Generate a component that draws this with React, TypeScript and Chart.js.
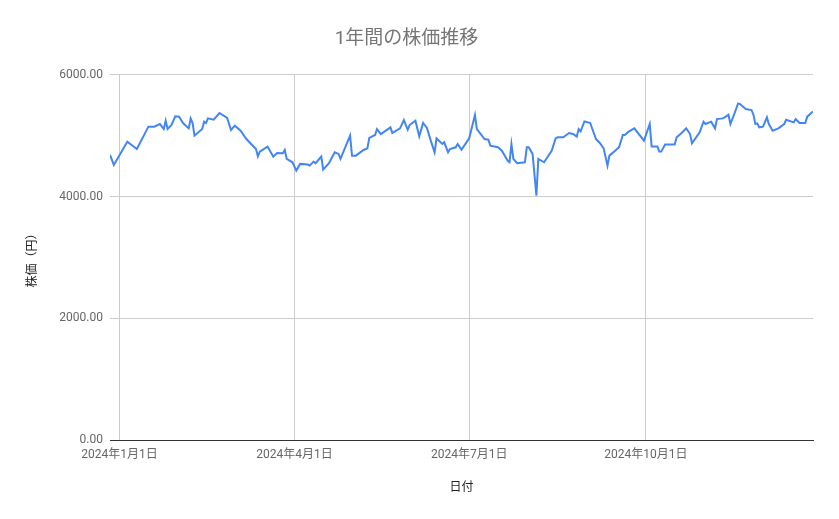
import React, { useEffect, useRef } from 'react';
import { Chart, registerables } from 'chart.js';

Chart.register(...registerables);

// days counted from 2024-01-01 (negative = late Dec 2023)
const tradingDays = [
  -5, -3, 4, 9, 15, 18, 21, 23, 24, 25, 27, 29, 31, 33, 36, 37, 38, 39, 43, 44,
  45, 46, 49, 52, 56, 58, 60, 63, 66, 71, 72, 73, 77, 80, 82, 85, 86, 87, 90, 92,
  94, 98, 99, 101, 102, 105, 106, 109, 112, 114, 115, 120, 121, 123, 127, 129, 130, 133, 134, 136,
  141, 142, 144, 146, 148, 150, 151, 154, 156, 158, 160, 162, 164, 165, 168, 169, 171, 172, 175, 176,
  178, 182, 185, 186, 190, 192, 193, 197, 199, 202, 203, 204, 205, 207, 211, 212, 213, 215, 217, 218,
  221, 225, 227, 228, 231, 234, 236, 238, 239, 240, 242, 245, 248, 250, 252, 254, 255, 258, 260, 262,
  263, 265, 268, 273, 276, 277, 280, 281, 282, 284, 289, 290, 292, 293, 295, 297, 298, 302, 304, 305,
  308, 310, 311, 314, 315, 317, 318, 320, 322, 323, 326, 329, 330, 331, 332, 333, 335, 337, 338, 340,
  343, 346, 347, 351, 352, 354, 357, 358, 361,
];

const closePrices = [
  4683, 4519, 4902, 4781, 5148, 5148, 5191, 5109, 5246, 5109, 5175, 5317, 5311, 5208, 5120, 5284, 5208, 5000, 5109, 5230,
  5208, 5284, 5262, 5372, 5290, 5093, 5164, 5082, 4945, 4781, 4661, 4738, 4820, 4656, 4716, 4710, 4765, 4618, 4563, 4426,
  4536, 4525, 4508, 4574, 4547, 4656, 4443, 4547, 4727, 4700, 4618, 5000, 4672, 4672, 4765, 4792, 4962, 5011, 5109, 5027,
  5137, 5044, 5082, 5120, 5257, 5098, 5175, 5246, 4989, 5208, 5126, 4918, 4727, 4956, 4863, 4891, 4727, 4781, 4809, 4863,
  4770, 4956, 5339, 5109, 4945, 4934, 4836, 4809, 4754, 4590, 4563, 4863, 4618, 4547, 4563, 4809, 4809, 4700, 4016, 4618,
  4563, 4754, 4956, 4973, 4973, 5044, 5027, 4984, 5109, 5071, 5235, 5208, 4945, 4880, 4792, 4508, 4672, 4754, 4809, 5011,
  5011, 5066, 5120, 4918, 5191, 4820, 4820, 4738, 4738, 4853, 4853, 4973, 5027, 5055, 5120, 5027, 4874, 5055, 5230, 5191,
  5230, 5120, 5273, 5284, 5301, 5344, 5191, 5355, 5530, 5519, 5437, 5421, 5344, 5191, 5202, 5137, 5148, 5301, 5191, 5082,
  5120, 5191, 5262, 5219, 5273, 5208, 5208, 5312, 5399,
];

const xTickDays = [0, 91, 182, 274];
const xTickLabels = ['2024年1月1日', '2024年4月1日', '2024年7月1日', '2024年10月1日'];

const FONT = 'Roboto, "Noto Sans CJK JP", sans-serif';

const App: React.FC = () => {
  const chartRef = useRef<HTMLCanvasElement>(null);
  const chartInstanceRef = useRef<Chart | null>(null);

  useEffect(() => {
    document.body.style.margin = '0';
    if (!chartRef.current) return;
    const ctx = chartRef.current.getContext('2d');
    if (!ctx) return;

    if (chartInstanceRef.current) {
      chartInstanceRef.current.destroy();
    }

    chartInstanceRef.current = new Chart(ctx, {
      type: 'line',
      data: {
        datasets: [
          {
            label: '株価',
            data: tradingDays.map((d, i) => ({ x: d, y: closePrices[i] })),
            borderColor: '#4285F4',
            borderWidth: 2,
            pointRadius: 0,
            tension: 0,
            fill: false,
          },
        ],
      },
      options: {
        responsive: true,
        maintainAspectRatio: false,
        animation: false,
        layout: { padding: { left: 0, right: 26, top: 0, bottom: 0 } },
        scales: {
          x: {
            type: 'linear',
            min: tradingDays[0],
            max: tradingDays[tradingDays.length - 1],
            afterBuildTicks: (scale: any) => {
              scale.ticks = xTickDays.map((value) => ({ value }));
            },
            afterFit: (scale: any) => {
              scale.height = 79;
            },
            ticks: {
              autoSkip: false,
              maxRotation: 0,
              padding: 8,
              color: '#666',
              font: { family: FONT, size: 12 },
              callback: (_v: any, index: number) => xTickLabels[index],
            },
            grid: { color: '#ccc', drawTicks: false },
            border: { display: true, color: '#333', width: 1 },
            title: {
              display: true,
              text: '日付',
              color: '#222',
              font: { family: FONT, size: 12 },
              padding: { top: 0, bottom: 24 },
            },
          },
          y: {
            min: 0,
            max: 6000,
            afterFit: (scale: any) => {
              scale.width = 110;
            },
            ticks: {
              stepSize: 2000,
              padding: 7,
              color: '#666',
              font: { family: FONT, size: 12 },
              callback: (v: any) => Number(v).toFixed(2),
            },
            grid: { color: '#ccc', drawTicks: false },
            border: { display: false },
            title: {
              display: true,
              text: '株価（円）',
              color: '#222',
              font: { family: FONT, size: 12 },
              padding: { top: 26, bottom: 0 },
            },
          },
        },
        plugins: {
          legend: { display: false },
          tooltip: { enabled: false },
          title: {
            display: true,
            text: '1年間の株価推移',
            color: '#757575',
            font: { family: FONT, size: 19, weight: 'normal' },
            padding: { top: 28, bottom: 24 },
          },
        },
      },
    });

    return () => {
      if (chartInstanceRef.current) {
        chartInstanceRef.current.destroy();
        chartInstanceRef.current = null;
      }
    };
  }, []);

  return (
    <div style={{ width: 839, height: 519, position: 'relative', background: '#fff' }}>
      <canvas ref={chartRef}></canvas>
    </div>
  );
};

export default App;
